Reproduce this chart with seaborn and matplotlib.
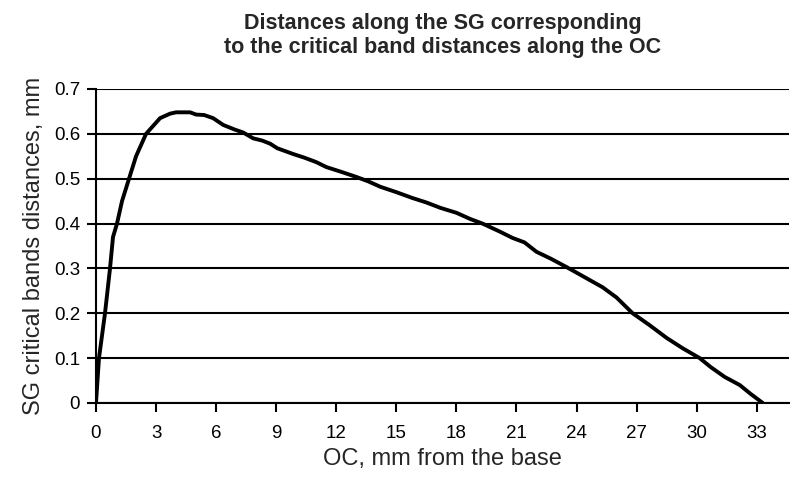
import numpy as np
import pandas as pd
import matplotlib
matplotlib.use('Agg')
import matplotlib.pyplot as plt
import seaborn as sns

# OC position (mm from base) and matching SG critical band distance (mm)
oc_mm = [0.0, 0.15, 0.45, 0.7, 0.85, 1.05, 1.3, 1.65, 2.0, 2.5, 3.2, 3.7, 4.0, 4.7, 5.0,
         5.4, 5.85, 6.35, 6.9, 7.35, 7.85, 8.3, 8.7, 9.05, 9.85, 10.4, 11.0, 11.5, 12.2,
         13.0, 13.6, 14.2, 15.0, 15.8, 16.5, 17.2, 18.0, 18.7, 19.3, 20.17, 20.8, 21.4,
         22.0, 22.7, 23.5, 24.5, 25.3, 26.0, 26.8, 27.6, 28.5, 29.3, 30.15, 30.7, 31.4,
         32.15, 32.7, 33.3]
sg_mm = [0.0, 0.1, 0.2, 0.3, 0.37, 0.4, 0.45, 0.5, 0.55, 0.6, 0.635, 0.645, 0.648, 0.648,
         0.643, 0.642, 0.635, 0.62, 0.61, 0.603, 0.59, 0.585, 0.578, 0.568, 0.555, 0.547,
         0.537, 0.526, 0.516, 0.504, 0.494, 0.482, 0.47, 0.457, 0.447, 0.435, 0.424, 0.41,
         0.4, 0.382, 0.368, 0.358, 0.337, 0.322, 0.303, 0.278, 0.258, 0.235, 0.2, 0.175,
         0.145, 0.122, 0.1, 0.08, 0.058, 0.04, 0.02, 0.0]

xticks = list(range(0, 34, 3))
yticks = [0, 0.1, 0.2, 0.3, 0.4, 0.5, 0.6, 0.7]
ytick_labels = ['0', '0.1', '0.2', '0.3', '0.4', '0.5', '0.6', '0.7']

df = pd.DataFrame({'oc': oc_mm, 'sg': sg_mm})

sns.set_style('white')
plt.rcParams['font.family'] = ['Liberation Sans', 'DejaVu Sans']

fig = plt.figure(figsize=(7.9, 4.79), dpi=100)
ax = fig.add_axes([0.1215, 0.1587, 0.877, 0.6555])

sns.lineplot(data=df, x='oc', y='sg', color='black', linewidth=2.8, ax=ax,
             estimator=None, sort=False, zorder=3)

ax.set_xlim(0, 34.6)
ax.set_ylim(0, 0.7)
ax.set_xticks(xticks)
ax.set_yticks(yticks)
ax.set_yticklabels(ytick_labels)
ax.yaxis.grid(True, color='black', linewidth=1.5)
ax.xaxis.grid(False)
ax.set_axisbelow(True)

for side in ['top', 'right']:
    ax.spines[side].set_visible(False)
for side in ['left', 'bottom']:
    ax.spines[side].set_color('black')
    ax.spines[side].set_linewidth(1.5)

ax.tick_params(axis='both', direction='out', length=6.5, width=1.5, colors='black',
               labelsize=13.5, pad=5)
ax.tick_params(axis='x', pad=9)
ax.tick_params(axis='both', left=True, bottom=True)

ax.set_xlabel('OC, mm from the base', fontsize=17, labelpad=5)
ax.set_ylabel('SG critical bands distances, mm', fontsize=17, labelpad=6)
ax.set_title('Distances along the SG corresponding\nto the critical band distances along the OC',
             fontsize=15.5, fontweight='bold', pad=26, linespacing=1.2)

fig.savefig('out.png', dpi=100)
